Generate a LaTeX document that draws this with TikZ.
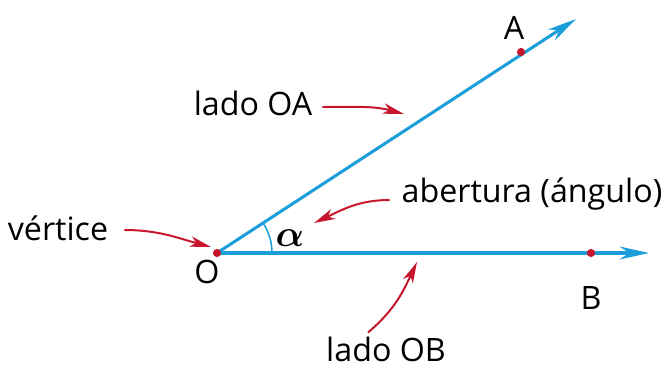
\documentclass[tikz,border=0pt]{standalone}
\usepackage{fix-cm}
\usepackage{amsmath,bm}
\usepackage{fontspec}
\setmainfont{Open Sans}
\usepackage{xcolor}
\usetikzlibrary{arrows.meta, backgrounds}
\definecolor{rayblue}{RGB}{28,158,218}
\definecolor{markred}{RGB}{200,22,45}

\begin{document}
\begin{tikzpicture}[x=0.03cm,y=0.03cm,
  every node/.style={font=\fontsize{27.5}{30}\selectfont},
  ray/.style={draw=rayblue,line width=2.6pt,-{Stealth[length=25pt,width=11pt,inset=8pt]}},
  pointer/.style={draw=markred,line width=1.7pt,-{Stealth[length=18pt,width=9pt,inset=5pt]}},
  dot/.style={circle,fill=markred,inner sep=0pt,minimum size=7pt},
  anglearc/.style={draw=rayblue,line width=1.3pt}
]
\useasboundingbox (0,0) rectangle (661,-369);
% points
\node[dot] (O) at (217,-253) {};
\node[dot] (A) at (521,-52) {};
\node[dot] (B) at (591,-253) {};
\coordinate (endA) at (576,-19);
\coordinate (endB) at (649,-253);
% sides
\begin{scope}[on background layer]
\draw[ray] (O.center) -- (endA);
\draw[ray] (O.center) -- (endB);
\draw[anglearc] ([shift={(0:55)}]O.center) arc[start angle=0,end angle=33.2,radius=55];
\end{scope}
% letters
\node (labA) at (514,-28) {A};
\node (labB) at (591,-298) {B};
\node (labO) at (207,-272) {O};
\node[font=\fontsize{32}{34}\selectfont] (alpha) at (290,-238) {$\bm{\alpha}$};
% captions
\node (vert) at (58,-228) {vértice};
\node (ladoA) at (253,-103) {lado OA};
\node (aber) at (532,-194) {abertura (ángulo)};
\node (ladoB) at (386,-349) {lado OB};
\coordinate (vertTip) at (211,-247);
\coordinate (ladoATip) at (404,-114);
\coordinate (aberTip) at (314,-223);
\coordinate (ladoBTip) at (417,-262);
\draw[pointer] (vert.east) ++(12,-2) to[out=0,in=165] (vertTip);
\draw[pointer] (ladoA.east) ++(6,-4) to[out=0,in=165] (ladoATip);
\draw[pointer] (aber.west) ++(-8,-6) to[out=180,in=25] (aberTip);
\draw[pointer] (ladoB.north) ++(-18,0) to[out=40,in=-115] (ladoBTip);
\end{tikzpicture}
\end{document}
